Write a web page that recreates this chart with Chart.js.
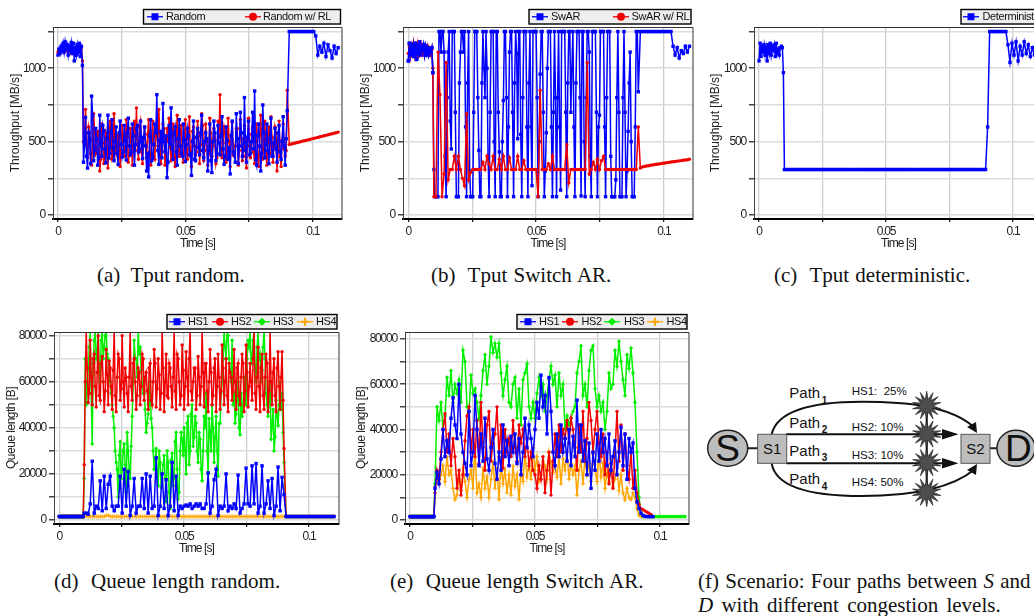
<!DOCTYPE html>
<html><head><meta charset="utf-8">
<script src="https://cdn.jsdelivr.net/npm/chart.js@4/dist/chart.umd.js"></script>
<style>
html,body{margin:0;padding:0;background:#fff;width:1034px;height:616px;overflow:hidden}
#page{position:relative;width:1034px;height:616px;overflow:hidden}
canvas{position:absolute}
.cap{position:absolute;font:21px "Liberation Serif",serif;color:#111;white-space:pre;line-height:24px;word-spacing:1px}
svg{position:absolute;left:0;top:0}
svg text{font-family:"Liberation Sans",sans-serif;fill:#111}
</style></head><body><div id="page">
<div class="cap" style="left:97px;top:263px;word-spacing:0">(a)  Tput random.</div>
<div class="cap" style="left:431px;top:263px">(b)  Tput Switch AR.</div>
<div class="cap" style="left:774px;top:263px">(c)  Tput deterministic.</div>
<div class="cap" style="left:54px;top:568.5px">(d)  Queue length random.</div>
<div class="cap" style="left:390px;top:568.5px">(e)  Queue length Switch AR.</div>
<div class="cap" style="left:698px;top:568.5px">(f) Scenario: Four paths between <i>S</i> and</div>
<div class="cap" style="left:698px;top:593px;word-spacing:3px"><i>D</i> with different congestion levels.</div>
<svg id="diagram" width="1034" height="616"></svg>
</div>
<script>
// ---------- time samples (ms) ----------
const timeHead = [0,0.4,0.8,1.2,1.6,2,2.4,2.8,3.2,3.6,4,4.4,4.8,5.2,5.6,6,6.4,6.8,7.2,7.6,8,8.4,8.8,9.2,9.6];
const timeBurst = [10,10.8,11.6,12.4,13.2,14,14.8,15.6,16.4,17.2,
18,18.8,19.6,20.4,21.2,22,22.8,23.6,24.4,25.2,
26,26.8,27.6,28.4,29.2,30,30.8,31.6,32.4,33.2,
34,34.8,35.6,36.4,37.2,38,38.8,39.6,40.4,41.2,
42,42.8,43.6,44.4,45.2,46,46.8,47.6,48.4,49.2,
50,50.8,51.6,52.4,53.2,54,54.8,55.6,56.4,57.2,
58,58.8,59.6,60.4,61.2,62,62.8,63.6,64.4,65.2,
66,66.8,67.6,68.4,69.2,70,70.8,71.6,72.4,73.2,
74,74.8,75.6,76.4,77.2,78,78.8,79.6,80.4,81.2,
82,82.8,83.6,84.4,85.2,86,86.8,87.6,88.4,89.2,
90];
const timeBurstMid = [10.4,11.2,12,12.8,13.6,14.4,15.2,16,16.8,17.6,
18.4,19.2,20,20.8,21.6,22.4,23.2,24,24.8,25.6,
26.4,27.2,28,28.8,29.6,30.4,31.2,32,32.8,33.6,
34.4,35.2,36,36.8,37.6,38.4,39.2,40,40.8,41.6,
42.4,43.2,44,44.8,45.6,46.4,47.2,48,48.8,49.6,
50.4,51.2,52,52.8,53.6,54.4,55.2,56,56.8,57.6,
58.4,59.2,60,60.8,61.6,62.4,63.2,64,64.8,65.6,
66.4,67.2,68,68.8,69.6,70.4,71.2,72,72.8,73.6,
74.4,75.2,76,76.8,77.6,78.4,79.2,80,80.8,81.6,
82.4,83.2,84,84.8,85.6,86.4,87.2,88,88.8,89.6];
const timeTail = [90.8,91.6,92.4,93.2,94,94.8,95.6,96.4,97.2,98,98.8,99.6,100.4,101.2,102,102.8,103.6,104.4,105.2,106,106.8,107.6,108.4,109.2,110];

// ---------- (a) Tput random ----------
const randomHead = [1090,1130,1100,1150,1120,1170,1110,1180,1130,1160,1090,1150,1120,1175,1100,1170,1050,1140,1090,1160,1110,1170,1080,1150,1020];
const randomBurst = [360,665,320,520,810,370,590,340,680,400,
575,355,680,420,650,370,600,345,640,395,
610,375,660,410,620,340,590,430,640,385,
600,300,260,650,390,620,820,345,570,760,
430,255,610,730,380,600,340,650,420,620,
365,590,410,270,640,370,590,410,680,390,
560,300,620,290,640,370,610,410,670,345,
600,380,280,640,410,690,350,700,400,800,
360,640,420,700,845,340,620,300,750,390,
620,350,660,400,590,360,610,380,670,340,
710];
const randomBurstMid = [480,400,560,350,680,440,520,390,480,610,
450,520,390,570,460,500,420,560,480,430,
510,560,470,430,540,480,610,450,500,530,
470,420,540,370,480,560,440,510,390,500,
540,360,480,450,560,430,520,470,400,510,
480,540,420,500,380,530,460,560,440,500,
520,440,370,500,560,420,490,540,450,400,
510,460,540,430,360,520,470,560,440,490,
530,410,500,450,380,540,470,420,560,480,
440,520,400,490,450,560,430,500,470,520];
const randomTail = [1250,1250,1250,1250,1250,1250,1250,1250,1250,1250,1250,1250,1250,1220,1090,1150,1110,1170,1080,1160,1120,1070,1150,1100,1140];
const randomRlHead = [1110,1130,1110,1140,1120,1140,1110,1150,1120,1130,1110,1140,1110,1150,1110,1140,1100,1130,1110,1140,1120,1140,1110,1140,1050];
const randomRlBurst = [500,720,390,560,340,690,420,570,300,620,
350,560,320,640,380,690,420,540,330,610,
400,650,360,590,340,640,730,380,640,350,
600,390,650,340,640,380,560,720,350,620,
340,590,660,370,620,330,680,400,610,360,
650,380,670,330,600,410,640,350,690,370,
620,340,660,400,590,350,640,820,390,600,
360,660,330,630,400,590,340,650,370,610,
320,660,390,600,350,620,330,680,380,640,
340,600,670,360,600,300,640,330,620,400,
850];
const randomRlBurstMid = [540,470,600,420,510,560,450,520,380,490,
430,520,460,590,400,510,470,550,440,500,
460,530,410,500,570,440,480,600,430,520,
480,550,430,500,400,560,470,510,440,590,
420,500,460,540,380,510,470,560,430,500,
450,520,400,570,470,430,540,480,610,440,
500,420,560,470,510,390,530,450,490,560,
430,500,540,410,470,590,440,520,460,400,
510,470,550,430,500,390,540,460,510,430,
490,420,530,470,560,440,400,510,450,440];
const randomRlTail = [480,484,487,491,494,498,501,505,508,512,515,519,522,526,529,533,536,540,543,547,550,554,557,561,565];

// ---------- (b) Tput Switch AR ----------
const swarHead = [1050,1170,1090,1150,1100,1160,1080,1170,1060,1160,1100,1180,1090,1150,1120,1160,1090,1150,1100,1140,1090,1130,1110,1140,970];
const swarBurst = [310,125,125,1250,1250,1110,125,1110,640,1250,
1250,125,125,1110,1250,1250,125,1250,125,125,
1250,1250,440,125,1250,800,1000,125,1250,1250,
125,1250,430,125,780,1250,125,1110,1250,125,
1250,520,1250,125,1250,1250,125,1250,200,1250,
1250,125,960,1250,125,560,1250,1250,125,1250,
125,1250,170,1250,1250,125,1250,700,1250,125,
1250,1250,130,1250,125,1250,1110,125,1250,1250,
125,680,1250,1250,125,1250,1250,125,125,240,
1250,125,125,1250,125,570,1110,125,125,1250,
840];
const swarBurstMid = [125,125,1250,1110,1250,400,800,1250,450,1250,
700,125,900,1250,1110,600,900,300,125,700,
1250,800,125,900,1000,1250,400,700,1250,500,
1250,700,125,500,1250,800,600,1250,700,900,
1100,1250,550,800,1250,600,900,600,1250,1250,
800,500,1250,700,300,1000,1250,600,700,800,
800,600,1250,1250,700,900,1250,1000,600,900,
1250,800,1250,500,800,1250,400,1250,1250,700,
600,1250,1250,600,800,1250,400,125,125,800,
700,125,800,700,300,900,500,125,600,1250];
const swarTail = [1250,1250,1250,1250,1250,1250,1250,1250,1250,1250,1250,1250,1250,1250,1250,1250,1150,1090,1140,1070,1120,1100,1150,1110,1150];
const swarRlHead = [1100,1150,1080,1140,1110,1170,1090,1150,1100,1160,1080,1150,1120,1160,1100,1140,1090,1130,1110,1150,1100,1120,1090,1130,1000];
const swarRlBurst = [125,125,1110,820,125,280,1040,240,310,310,
400,310,400,310,250,200,690,240,290,310,
310,310,310,310,360,310,400,350,310,400,
310,310,380,310,400,310,310,390,310,310,
310,400,310,310,370,310,310,310,310,310,
310,125,850,310,310,310,350,310,400,310,
310,310,310,310,310,480,220,310,310,310,
310,310,310,310,310,1040,280,310,360,310,
380,310,370,400,310,310,310,310,310,310,
310,310,310,310,310,310,310,310,310,310,
600];
const swarRlTail = [320,328,331,334,336,339,341,344,346,348,350,353,355,357,359,361,363,365,367,369,371,373,375,377,380];

// ---------- (c) Tput deterministic ----------
const detHead = [1050,1170,1080,1150,1110,1160,1090,1140,1050,1160,1100,1170,1090,1150,1120,1160,1080,1170,1100,1130,1090,1140,1150,1140,970];
const detBurst = [310,310,310,310,310,310,310,310,310,310,
310,310,310,310,310,310,310,310,310,310,
310,310,310,310,310,310,310,310,310,310,
310,310,310,310,310,310,310,310,310,310,
310,310,310,310,310,310,310,310,310,310,
310,310,310,310,310,310,310,310,310,310,
310,310,310,310,310,310,310,310,310,310,
310,310,310,310,310,310,310,310,310,310,
310,310,310,310,310,310,310,310,310,310,
310,310,310,310,310,310,310,310,310,310,
600];
const detTail = [1250,1250,1250,1250,1250,1250,1250,1250,1250,1160,1040,1170,1090,1180,1050,1150,1090,1180,1100,1160,1080,1140,1090,1150,1100];

// ---------- (d),(e) idle queue levels, kB ----------
const idleHead = [1.5,1.5,1.5,1.5,1.5,1.5,1.5,1.5,1.5,1.5,1.5,1.5,1.5,1.5,1.5,1.5,1.5,1.5,1.5,1.5,1.5,1.5,1.5,1.5,1.5];
const idleTail = [1.5,1.5,1.5,1.5,1.5,1.5,1.5,1.5,1.5,1.5,1.5,1.5,1.5,1.5,1.5,1.5,1.5,1.5,1.5,1.5,1.5,1.5,1.5,1.5,1.5];

// ---------- (d) Queue length random, kB ----------
const qrHs1 = [3,3,2.5,7,25.5,3,6,5,17,4,
19,5,15.5,19,6,4,6,6,19,3,
22,6,21,2,6,18,3,6,6,18,
5,20,3,19,5,6,27,2,6,20,
5,17.5,2,6,25,4,19,2,6,5,
6,6.5,6,7,5,6,7,6,7,5,
5,7,20.5,3,6,17.5,22,2,6,5,
6,20,4,6,5,7,5,19.5,3,5,
7,22.5,7,6,23.5,7,24.5,3,6,23.5,
3,7,17,5,18,2,6,23,4,18.5,
11];
const qrHs2 = [24,82,51,78,50,72,49,80,52,71,
47,74,50,66,48,82,47,72,52,80,
49,62,47,82,52,70,48,66,50,72,
52,64,48,68,50,74,49,70,48,82,
47,72,53,66,49,82,48,70,50,76,
48,73,50,82,52,66,48,71,50,82,
49,68,47,74,50,66,47,72,48,76,
50,70,47,64,52,74,48,68,50,72,
47,76,49,68,52,82,48,75,47,72,
48,72,47,82,50,70,47,73,48,73,
31];
const qrHs2Mid = [60,66,55,62,70,58,64,54,68,60,
56,63,69,58,65,54,62,70,57,60,
66,55,62,58,68,60,54,64,58,70,
62,56,66,52,60,68,57,63,55,66,
60,54,68,58,62,56,72,60,54,65,
58,62,70,56,60,66,54,62,58,64,
68,56,60,64,54,70,58,62,56,66,
60,54,68,62,56,60,66,54,62,68,
56,64,58,60,70,55,62,58,66,54,
62,68,56,60,64,54,66,58,62,52];
const qrHs3 = [18,50,65,82,33,78,70,82,60,82,
75,82,70,60,50,40,25,10,34,22,
33,12,30,18,45,78,70,82,75,60,
55,38,46,60,40,22,31,15,25,20,
28,8,25,5,29,18,38,9,30,35,
40,20,45,30,50,36,42,25,35,17,
45,55,20,38,50,25,45,19,42,60,
82,70,80,65,78,55,46,60,37,45,
62,50,78,82,70,82,60,82,72,65,
82,55,45,60,41,30,52,41,60,55,
25];
const qrHs3Mid = [70,60,75,55,68,82,72,65,78,70,
80,72,62,55,45,30,22,28,18,30,
24,38,22,32,60,70,62,72,65,55,
48,42,50,44,30,26,20,30,14,24,
18,30,12,26,15,34,22,12,38,28,
30,42,24,46,32,45,30,38,22,30,
40,30,44,30,40,36,30,42,55,70,
75,82,70,60,50,42,52,40,55,50,
55,70,75,68,78,65,75,70,60,75,
70,50,52,35,48,36,45,50,48,38];
const qrHs4 = [1.5,1.5,1.5,1.5,1.5,1.5,1.5,1.5,1.5,1.5,
1.5,2,2,1.5,1.5,1.5,1.5,1.5,1.5,1.5,
1.5,1.5,1.5,1.5,1.5,1.5,1.5,1.5,1.5,1.5,
1.5,1.5,1.5,1.5,1.5,1.5,1.5,1.5,1.5,1.5,
1.5,1.5,1.5,1.5,1.5,1.5,1.5,1.5,1.5,1.5,
1.5,1.5,1.5,1.5,1.5,1.5,1.5,1.5,1.5,1.5,
1.5,1.5,1.5,1.5,1.5,1.5,1.5,1.5,1.5,1.5,
1.5,1.5,1.5,1.5,1.5,1.5,1.5,1.5,1.5,1.5,
1.5,1.5,1.5,1.5,1.5,1.5,1.5,1.5,1.5,1.5,
1.5,1.5,1.5,1.5,1.5,1.5,1.5,1.5,1.5,1.5,
1.5];

// ---------- (e) Queue length Switch AR, kB ----------
const qsHs1 = [14,21,16,27,40,28,35,30,45,54,
42,36,60,38,30,25,20,48,24,30,
55,40,24,38,26,45,27,22,32,40,
25,18,30,22,42,28,35,24,37,30,
38,25,36,20,30,45,32,42,36,28,
40,52,45,64,50,55,38,63,48,30,
24,38,28,42,30,36,26,40,24,37,
28,53,30,42,26,35,20,34,14,30,
22,38,26,40,30,36,24,38,22,28,
35,20,30,41,24,38,18,36,30,34,
14];
const qsHs1Tail = [8,5,3,2,1.6,1.5,1.5,1.5,1.5,null,null,null,null,null,null,null,null,null,null,null,null,null,null,null,null];
const qsHs2 = [12,22,18,30,40,47,30,38,24,36,
28,14,22,11,20,35,46,50,30,40,
28,44,25,52,32,22,42,48,26,34,
38,50,28,42,23,40,30,36,28,44,
32,26,42,34,40,28,36,24,30,22,
20,14,24,18,28,12,22,30,11,26,
38,28,42,30,40,36,44,34,45,40,
32,22,42,30,48,26,36,52,44,30,
40,48,34,28,38,20,30,16,25,14,
30,48,26,42,22,38,24,18,30,14,
22];
const qsHs2Tail = [12,7,5,4.5,4,3.5,3,2.5,1.5,null,null,null,null,null,null,null,null,null,null,null,null,null,null,null,null];
const qsHs3 = [16,50,44,52,40,46,63,55,66,52,
60,56,62,52,75,70,50,48,64,56,
58,52,45,55,66,73,60,68,81,74,
78,72,78,65,55,62,68,52,50,60,
63,45,58,42,62,65,69,50,45,52,
45,56,63,55,60,48,55,62,68,60,
64,50,65,55,60,40,46,42,45,48,
50,65,70,77,55,60,50,66,75,77,
58,50,55,48,52,40,48,65,58,60,
75,68,79,70,62,55,73,67,76,65,
52];
const qsHs3Tail = [30,10,3,1.6,1.5,1.5,1.5,1.5,1.5,1.5,1.5,1.5,1.5,1.5,1.5,1.5,1.5,1.5,1.5,1.5,1.5,1.5,1.5,1.5,1.5];
const qsHs4 = [15,18,16,20,24,17,28,20,22,14,
9,11,20,13,23,17,10,18,22,14,
32,12,16,10,23,14,19,10,18,26,
14,23,9,25,16,22,12,20,11,24,
15,20,9,22,17,30,19,25,18,32,
22,28,17,20,26,24,18,30,25,21,
24,19,28,16,27,22,30,18,25,20,
24,11,22,26,16,28,20,25,17,29,
22,17,30,19,25,14,21,17,27,15,
18,23,13,20,12,9,14,10,9,12,
10];
const qsHs4Tail = [5,2,1.5,1.5,null,null,null,null,null,null,null,null,null,null,null,null,null,null,null,null,null,null,null,null,null];

// ---------- ticks ----------
const xTicks = [0,25,50,75,100];
const xTickLabels = {0:'0',50:'0.05',100:'0.1'};
const tputTicks = [0,250,500,750,1000,1250];
const tputTickLabels = {0:'0',500:'500',1000:'1000'};
const queueTicks = [0,10000,20000,30000,40000,50000,60000,70000,80000];
const queueTickLabels = {0:'0',20000:'20000',40000:'40000',60000:'60000',80000:'80000'};

// ---------- helpers ----------
const BLUE='#0000ff',RED='#f00000',GREEN='#00f000',ORANGE='#ffa500',FONT='"Liberation Sans",sans-serif';
const MARK={rect:2.4,circle:1.7,rectRot:2.1,cross:2.2};
function join(times,vals,scale){
  const out=[];
  times.forEach((t,i)=>{ if(vals[i]!==null&&vals[i]!==undefined) out.push({x:t,y:vals[i]*(scale||1)}); });
  return out;
}
function series(h,b,t,scale,mid){
  const burst=[...join(timeBurst,b,scale),...(mid?join(timeBurstMid,mid,scale):[])].sort((p,q)=>p.x-q.x);
  return [...join(timeHead,h,scale),...burst,...join(timeTail,t,scale)];
}
function ds(label,color,style,data,order){
  return {label,data,order,borderColor:color,backgroundColor:color,pointBackgroundColor:color,pointBorderColor:color,
    borderWidth:1.5,pointStyle:style,pointRadius:MARK[style],pointBorderWidth:style==='cross'?1:0,tension:0,hoverRadius:0};
}
function spaceText(s,tickSp,titleSp){
  if(s.__sp)return; s.__sp=true;
  const dl=s.drawLabels,dt=s.drawTitle;
  s.drawLabels=function(a){this.ctx.letterSpacing=tickSp;dl.call(this,a);this.ctx.letterSpacing='0px';};
  s.drawTitle=function(){this.ctx.letterSpacing=titleSp;dt.call(this);this.ctx.letterSpacing='0px';};
}
const legendPlugin={id:'boxLegend',afterDraw(c){
  const o=c.options.plugins.boxLegend,ctx=c.ctx;
  ctx.save();
  ctx.fillStyle='#eeeeee';ctx.strokeStyle='#000';ctx.lineWidth=1.4;
  ctx.fillRect(o.box[0],o.box[1],o.box[2],o.box[3]);ctx.strokeRect(o.box[0],o.box[1],o.box[2],o.box[3]);
  const y=o.box[1]+o.box[3]/2;
  o.items.forEach((it,k)=>{
    const d=c.data.datasets[k],x0=it[0],x1=it[0]+16,mx=x0+8;
    ctx.strokeStyle=d.borderColor;ctx.fillStyle=d.borderColor;ctx.lineWidth=1.3;
    ctx.beginPath();ctx.moveTo(x0,y);ctx.lineTo(x1,y);ctx.stroke();
    ctx.beginPath();
    if(d.pointStyle==='rect')ctx.rect(mx-3.5,y-3.5,7,7);
    else if(d.pointStyle==='circle')ctx.arc(mx,y,4,0,7);
    else if(d.pointStyle==='rectRot'){ctx.moveTo(mx,y-4);ctx.lineTo(mx+4,y);ctx.lineTo(mx,y+4);ctx.lineTo(mx-4,y);ctx.closePath();}
    else {ctx.lineWidth=2;ctx.moveTo(mx,y-4);ctx.lineTo(mx,y+4);ctx.moveTo(mx-4,y);ctx.lineTo(mx+4,y);ctx.stroke();}
    ctx.fill();
    ctx.fillStyle='#111';ctx.font='11px '+FONT;ctx.textBaseline='middle';ctx.textAlign='left';
    ctx.letterSpacing='-0.4px';
    ctx.fillText(d.label,it[1],y+0.5);
    ctx.letterSpacing='0px';
  });
  ctx.restore();
}};
const framePlugin={id:'frame',afterDraw(c){
  const a=c.chartArea,ctx=c.ctx;ctx.save();ctx.strokeStyle='#333';ctx.lineWidth=1;
  ctx.beginPath();ctx.moveTo(a.left,a.top+0.5);ctx.lineTo(a.right,a.top+0.5);ctx.lineTo(a.right,a.bottom);ctx.stroke();ctx.restore();
}};
function makeChart(p){
  const cv=document.createElement('canvas');
  cv.style.left=p.cx+'px';cv.style.top=p.cy+'px';
  document.getElementById('page').appendChild(cv);
  const H=p.b+32;
  cv.width=350;cv.height=H;cv.style.width='350px';cv.style.height=H+'px';
  new Chart(cv,{type:'line',data:{datasets:p.datasets},plugins:[legendPlugin,framePlugin],options:{
    responsive:false,animation:false,devicePixelRatio:1,events:[],
    layout:{autoPadding:false,padding:{left:0,top:p.t,right:350-p.r,bottom:0}},
    plugins:{legend:{display:false},tooltip:{enabled:false},boxLegend:{box:p.box,items:p.items}},
    scales:{
      x:{type:'linear',min:p.xMin,max:p.xMax,
        afterBuildTicks(s){s.ticks=xTicks.map(v=>({value:v}));},
        afterFit(s){s.height=32;spaceText(s,'-1.2px','-0.9px');},
        grid:{color:'#cdcdcd',lineWidth:1.3,tickLength:3,tickColor:'#222'},
        border:{color:'#000',width:2},
        title:{display:true,text:'Time [s]',font:{size:12,family:FONT},color:'#222',padding:0},
        ticks:{autoSkip:false,maxRotation:0,padding:2,color:'#222',font:{size:12,family:FONT},
          callback:v=>xTickLabels[v]||''}},
      y:{type:'linear',min:p.yMin,max:p.yMax,
        afterBuildTicks(s){s.ticks=p.yTicks.map(v=>({value:v}));},
        afterFit(s){s.width=p.l;spaceText(s,'-1.2px',p.titleSp);},
        grid:{color:'#dcdcdc',lineWidth:1.5,tickLength:5,tickColor:'#444'},
        border:{color:'#444',width:1},
        title:{display:true,text:p.yTitle,font:{size:12,family:FONT},color:'#222',padding:{top:p.titlePad,bottom:0}},
        ticks:{autoSkip:false,padding:3,color:'#222',font:{size:12,family:FONT},
          callback:v=>p.yLabels[v]||''}}
    }}});
}
// ---------- charts ----------
makeChart({cx:0,cy:0,l:53,r:342,t:27,b:219,xMin:-1.96,xMax:111.5,yMin:-27,yMax:1281,yTicks:tputTicks,yLabels:tputTickLabels,yTitle:'Throughput [MB/s]',titlePad:8,titleSp:'0px',
  box:[143.5,9.5,197,14.5],items:[[147,166],[245,263]],
  datasets:[ds('Random',BLUE,'rect',series(randomHead,randomBurst,randomTail,1,randomBurstMid),0),
            ds('Random w/ RL',RED,'circle',series(randomRlHead,randomRlBurst,randomRlTail,1,randomRlBurstMid),1)]});
makeChart({cx:350,cy:0,l:53,r:343,t:27,b:219,xMin:-2.08,xMax:111.4,yMin:-27,yMax:1281,yTicks:tputTicks,yLabels:tputTickLabels,yTitle:'Throughput [MB/s]',titlePad:8,titleSp:'0px',
  box:[179,9.5,162,14.5],items:[[182,201],[263,281.5]],
  datasets:[ds('SwAR',BLUE,'rect',series(swarHead,swarBurst,swarTail,1,swarBurstMid),1),
            ds('SwAR w/ RL',RED,'circle',series(swarRlHead,swarRlBurst,swarRlTail),0),
            ds('SwAR start',BLUE,'rect',join(timeHead,swarHead),-1)]});
makeChart({cx:700,cy:0,l:54,r:343,t:27,b:219,xMin:-1.97,xMax:111.8,yMin:-27,yMax:1281,yTicks:tputTicks,yLabels:tputTickLabels,yTitle:'Throughput [MB/s]',titlePad:8,titleSp:'0px',
  box:[261,9.5,81,14.5],items:[[263,282.5]],
  datasets:[ds('Deterministic',BLUE,'rect',series(detHead,detBurst,detTail),0)]});
makeChart({cx:0,cy:300,l:54,r:339,t:32,b:224,xMin:-2.1,xMax:112,yMin:-1740,yMax:81600,yTicks:queueTicks,yLabels:queueTickLabels,yTitle:'Queue length [B]',titlePad:4.5,titleSp:'-0.5px',
  box:[167,14.5,170,14.5],items:[[169,188],[212,231],[254,273],[297,316]],
  datasets:[ds('HS1',BLUE,'rect',series(idleHead,qrHs1,idleTail,1000),0),
            ds('HS2',RED,'circle',series(idleHead,qrHs2,idleTail,1000,qrHs2Mid),1),
            ds('HS3',GREEN,'rectRot',series(idleHead,qrHs3,idleTail,1000,qrHs3Mid),2),
            ds('HS4',ORANGE,'cross',series(idleHead,qrHs4,idleTail,1000),3)]});
makeChart({cx:350,cy:300,l:55,r:339,t:32,b:224,xMin:-2,xMax:111.6,yMin:-1770,yMax:83090,yTicks:queueTicks,yLabels:queueTickLabels,yTitle:'Queue length [B]',titlePad:4.5,titleSp:'-0.5px',
  box:[167,14.5,170,14.5],items:[[170,189],[212,231.5],[254,274],[297,316.5]],
  datasets:[ds('HS1',BLUE,'rect',series(idleHead,qsHs1,qsHs1Tail,1000),0),
            ds('HS2',RED,'circle',series(idleHead,qsHs2,qsHs2Tail,1000),1),
            ds('HS3',GREEN,'rectRot',series(idleHead,qsHs3,qsHs3Tail,1000),2),
            ds('HS4',ORANGE,'cross',series(idleHead,qsHs4,qsHs4Tail,1000),3)]});

// ---------- (f) scenario diagram ----------
const starCentres=[[926.7,405.7],[926.7,434],[926.7,462.7],[926.7,492.3]];
function star(cx,cy){let s='';for(let i=0;i<28;i++){const r=i%2?6.5:14.5,a=i*Math.PI/14;s+=(cx+r*Math.sin(a)).toFixed(1)+','+(cy-r*Math.cos(a)).toFixed(1)+' ';}
  return `<polygon points="${s}" fill="#4d4d4d" stroke="#111" stroke-width="0.6"/>`;}
const pathLabels=[[789.3,398,'1',403.5],[789.3,427.5,'2',433],[789.3,455.5,'3',461],[789.3,484,'4',489.5]];
const hsLabels=[[851.7,395,'HS1:  25%'],[851.7,430.7,'HS2: 10%'],[851.7,458.7,'HS3: 10%'],[851.7,486.3,'HS4: 50%']];
let svg=`
<path d="M748 448.3H758M990 448.3H998" stroke="#222" stroke-width="2" fill="none"/>
<ellipse cx="727.7" cy="448.3" rx="20" ry="18" fill="#bdbdbd" stroke="#222" stroke-width="1.5"/>
<ellipse cx="1016" cy="448.3" rx="19" ry="18" fill="#bdbdbd" stroke="#222" stroke-width="1.5"/>
<path d="M771.7 434C778 408 820 401.7 862 401.7C905 401.7 950 405 975 428" stroke="#111" stroke-width="2" fill="none"/>
<path d="M771.7 463.3C776 490 820 496 862 496C905 496 950 490 975 469" stroke="#111" stroke-width="2" fill="none"/>
<path d="M786 434.3H945M786 463.3H945" stroke="#111" stroke-width="2" fill="none"/>
<path d="M926.7 405V492" stroke="#111" stroke-width="2"/>
<polygon points="977,433 967,427 976,422" fill="#111"/><polygon points="977,464 967,470 976,475" fill="#111"/>
<polygon points="958.5,434.3 942,429 942,439.5" fill="#111"/><polygon points="958.5,463.3 942,458 942,468.5" fill="#111"/>
<rect x="757.7" y="434.3" width="29" height="29" fill="#bdbdbd" stroke="#555"/>
<rect x="961" y="434.3" width="29" height="29" fill="#bdbdbd" stroke="#555"/>
<text x="772.2" y="454" font-size="15" text-anchor="middle">S1</text>
<text x="975.5" y="454" font-size="15" text-anchor="middle">S2</text>
<text x="727.7" y="461" font-size="37" text-anchor="middle">S</text>
<text x="1005" y="461" font-size="37">D</text>`;
starCentres.forEach(c=>svg+=star(c[0],c[1]));
pathLabels.forEach(p=>svg+=`<text x="${p[0]}" y="${p[1]}" font-size="15">Path</text><text x="${p[0]+32.5}" y="${p[3]}" font-size="10" font-weight="bold">${p[2]}</text>`);
hsLabels.forEach(h=>svg+=`<text x="${h[0]}" y="${h[1]}" font-size="11.5" xml:space="preserve">${h[2]}</text>`);
document.getElementById('diagram').innerHTML=svg;
</script>
</body></html>
